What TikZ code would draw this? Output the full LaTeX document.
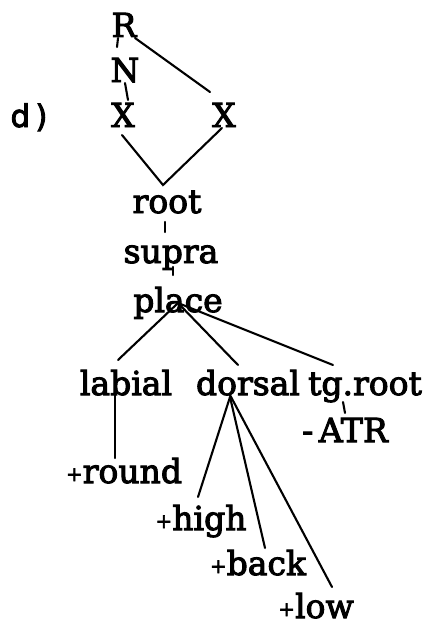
\documentclass[tikz,border=0pt]{standalone}
\usepackage{fontspec}
\newfontfamily\labfont{DejaVu Serif}[FakeBold=3]
\newfontfamily\dsans{DejaVu Sans}[FakeBold=3]
\newcommand\smplus{{\fontsize{20}{20}\selectfont\raisebox{2pt}{+}}}
\begin{document}
\begin{tikzpicture}[x=1pt,y=-1pt,
  lab/.style={anchor=base,inner sep=0pt,font=\labfont\fontsize{33}{33}\selectfont},
  ln/.style={line width=2.1pt,line cap=round}]
\useasboundingbox (0,0) rectangle (427,626);
\node[lab,font=\dsans\fontsize{31}{31}\selectfont] (d) at (29,127) {d\,)};
\node[lab] (R) at (124,37) {R};
\node[lab] (N) at (125,82) {N};
\node[lab] (XL) at (123,127) {X};
\node[lab] (XR) at (224,127) {X};
\node[lab] (root) at (167,213) {root};
\node[lab] (supra) at (171,263) {supra};
\node[lab] (place) at (178,312) {place};
\node[lab] (labial) at (126,395) {labial};
\node[lab] (dorsal) at (248,395) {dorsal};
\node[lab] (tg) at (365,395) {tg.root};
\node[lab] (atr) at (345,442) {-\,ATR};
\node[lab] (round) at (124,483) {\smplus round};
\node[lab] (high) at (201,530) {\smplus high};
\node[lab] (back) at (258,575) {\smplus back};
\node[lab] (low) at (316,618) {\smplus low};
\draw[ln] ([shift={(-6,1)}]R.base) -- ([shift={(-8,-35)}]N.base);
\draw[ln] ([shift={(11,1)}]R.base) -- ([shift={(-14,-35)}]XR.base);
\draw[ln] ([shift={(0,1)}]N.base) -- ([shift={(5,-27)}]XL.base);
\draw[ln] ([shift={(-1,8)}]XL.base) -- ([shift={(-4,-28)}]root.base) -- ([shift={(-2,1)}]XR.base);
\draw[ln] ([shift={(-2,9)}]root.base) -- ([shift={(-6,-31)}]supra.base);
\draw[ln] ([shift={(2,4)}]supra.base) -- ([shift={(-5,-37)}]place.base);
\draw[ln] ([shift={(0,-9)}]place.base) -- ([shift={(-8,-35)}]labial.base);
\draw[ln] ([shift={(0,-9)}]place.base) -- ([shift={(-10,-30)}]dorsal.base);
\draw[ln] ([shift={(0,-9)}]place.base) -- ([shift={(-32,-30)}]tg.base);
\draw[ln] ([shift={(-22,7)}]tg.base) -- ([shift={(0,-29)}]atr.base);
\draw[ln] ([shift={(-11,-2)}]labial.base) -- ([shift={(-9,-25)}]round.base);
\draw[ln] ([shift={(-18,2)}]dorsal.base) -- ([shift={(-3,-33)}]high.base);
\draw[ln] ([shift={(-18,2)}]dorsal.base) -- ([shift={(7,-27)}]back.base);
\draw[ln] ([shift={(-18,0)}]dorsal.base) -- ([shift={(16,-31)}]low.base);
\end{tikzpicture}
\end{document}
